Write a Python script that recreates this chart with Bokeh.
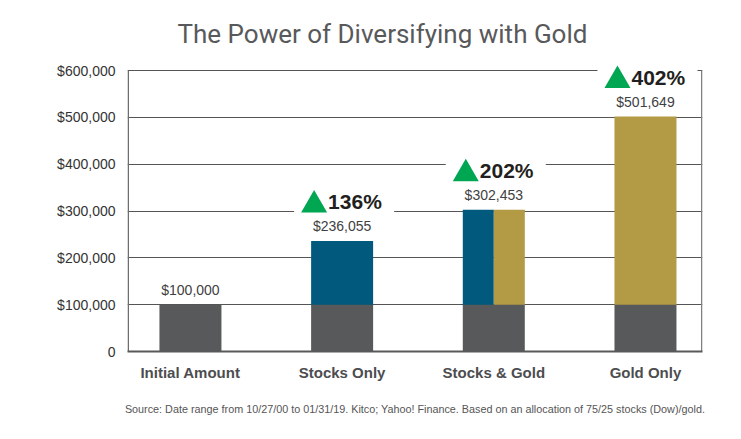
from bokeh.plotting import figure
from bokeh.models import FixedTicker, LinearAxis, Title, Range1d
from bokeh.core.properties import value
from bokeh.embed import file_html
from bokeh.resources import INLINE

# ---------------- data ----------------
categories = ["Initial Amount", "Stocks Only", "Stocks & Gold", "Gold Only"]
base_amount = [100000, 100000, 100000, 100000]
final_amount = [100000, 236055, 302453, 501649]
stocks_share = [0.0, 1.0, 0.5, 0.0]          # share of the bar drawn in the stocks colour
value_labels = ["$100,000", "$236,055", "$302,453", "$501,649"]
gain_labels = ["", "136%", "202%", "402%"]
y_ticks = [0, 100000, 200000, 300000, 400000, 500000, 600000]
y_tick_labels = ["0", "$100,000", "$200,000", "$300,000", "$400,000", "$500,000", "$600,000"]

title_text = "The Power of Diversifying with Gold"
source_text = ("Source: Date range from 10/27/00 to 01/31/19. Kitco; Yahoo! Finance. "
               "Based on an allocation of 75/25 stocks (Dow)/gold.")

# ---------------- layout / style ----------------
W, H = 741, 439
B_LEFT, B_RIGHT, B_TOP, B_BOTTOM = 127, 39, 61, 88
TOP_PAD_PX = 9                       # room above the top gridline for the labels
frame_w = W - B_LEFT - B_RIGHT
frame_h = H - B_TOP - B_BOTTOM
X0, X1 = -0.415, 3.376
Y0 = 0
ppy = (frame_h - TOP_PAD_PX) / y_ticks[-1]   # px per y unit
Y1 = frame_h / ppy
ppx = frame_w / (X1 - X0)                   # px per x unit
bar_w = 62 / ppx

GREY = "#58595b"
BLUE = "#015a7d"
GOLD = "#b39a45"
GREEN = "#00a651"
FONT = "Liberation Sans"

p = figure(width=W, height=H, output_backend="svg", toolbar_location=None,
           x_range=Range1d(X0, X1), y_range=Range1d(Y0, Y1), title=None,
           min_border_left=B_LEFT, min_border_right=B_RIGHT,
           min_border_top=B_TOP, min_border_bottom=B_BOTTOM)
p.outline_line_color = None
p.background_fill_color = "white"
p.border_fill_color = "white"

xs = list(range(len(categories)))

# left and right frame lines, from 0 up to the top tick
p.segment(x0=[X0 + 0.75 / ppx], y0=[y_ticks[0]], x1=[X0 + 0.75 / ppx], y1=[y_ticks[-1]],
          line_color="#6d6e71", line_width=1.5)
p.segment(x0=[X1 - 0.75 / ppx], y0=[y_ticks[0]], x1=[X1 - 0.75 / ppx], y1=[y_ticks[-1]],
          line_color="#808080", line_width=1.5)

# base (initial amount) bars
p.vbar(x=xs, width=bar_w, bottom=0, top=base_amount, color=GREY, line_color=None)

# growth parts
idx = [i for i in xs if final_amount[i] > base_amount[i]]
sx, sw, sb, st = [], [], [], []
gx, gw, gb, gt = [], [], [], []
for i in idx:
    s = stocks_share[i]
    if s > 0:
        sw.append(s * bar_w)
        sx.append(i - bar_w / 2 + s * bar_w / 2)
        sb.append(base_amount[i]); st.append(final_amount[i])
    if s < 1:
        g = 1 - s
        gw.append(g * bar_w)
        gx.append(i + bar_w / 2 - g * bar_w / 2)
        gb.append(base_amount[i]); gt.append(final_amount[i])
p.vbar(x=sx, width=sw, bottom=sb, top=st, color=BLUE, line_color=None)
p.vbar(x=gx, width=gw, bottom=gb, top=gt, color=GOLD, line_color=None)

# value labels
p.text(x=xs, y=final_amount, text=value_labels, y_offset=-15,
       text_align="center", text_baseline="middle",
       text_font=value(FONT), text_font_size="14px", text_color="#414042")

# gain labels with white box, triangle and bold percent
PCT_OFF = 39
bx = [i + 2 / ppx for i in idx]
by = [final_amount[i] + PCT_OFF / ppy for i in idx]
p.rect(x=bx, y=by, width=100, height=24, width_units="screen", height_units="screen",
       fill_color="white", line_color=None)
tx = [i - 28 / ppx for i in idx]
ty = [final_amount[i] + (PCT_OFF - 3) / ppy for i in idx]
p.scatter(x=tx, y=ty, marker="triangle", size=26, fill_color=GREEN, line_color=None)
p.text(x=idx, y=[final_amount[i] for i in idx], text=[gain_labels[i] for i in idx],
       x_offset=-14, y_offset=-PCT_OFF, text_align="left", text_baseline="middle",
       text_font=value(FONT), text_font_style="bold", text_font_size="21px",
       text_color="#231f20")

# grid
p.xgrid.visible = False
p.ygrid.ticker = FixedTicker(ticks=y_ticks)
p.ygrid.grid_line_color = "#555555"
p.ygrid.grid_line_width = 1

# y axis
p.yaxis.ticker = FixedTicker(ticks=y_ticks)
p.yaxis.major_label_overrides = {t: l for t, l in zip(y_ticks, y_tick_labels)}
p.yaxis.major_tick_line_color = None
p.yaxis.minor_tick_line_color = None
p.yaxis.axis_line_color = None
p.yaxis.major_label_standoff = 6
p.yaxis.major_label_text_font = FONT
p.yaxis.major_label_text_font_size = "14px"
p.yaxis.major_label_text_color = "#333333"

# x axis
p.xaxis.ticker = FixedTicker(ticks=xs)
p.xaxis.major_label_overrides = {i: c for i, c in zip(xs, categories)}
p.xaxis.major_tick_line_color = None
p.xaxis.minor_tick_line_color = None
p.xaxis.axis_line_color = "#58595b"
p.xaxis.axis_line_width = 2
p.xaxis.major_label_standoff = 6
p.xaxis.major_label_text_font = FONT
p.xaxis.major_label_text_font_style = "bold"
p.xaxis.major_label_text_font_size = "15px"
p.xaxis.major_label_text_color = "#4d4d4f"

# title and source
p.add_layout(Title(text=title_text, align="left", offset=50,
                   text_font="Roboto", text_font_size="26px",
                   text_font_style="normal", text_color="#58595b", standoff=25), "above")
p.add_layout(Title(text=source_text, align="center",
                   text_font=FONT, text_font_size="10.8px",
                   text_font_style="normal", text_color="#555555", standoff=34), "below")

open("out.html", "w").write(file_html(p, INLINE))
